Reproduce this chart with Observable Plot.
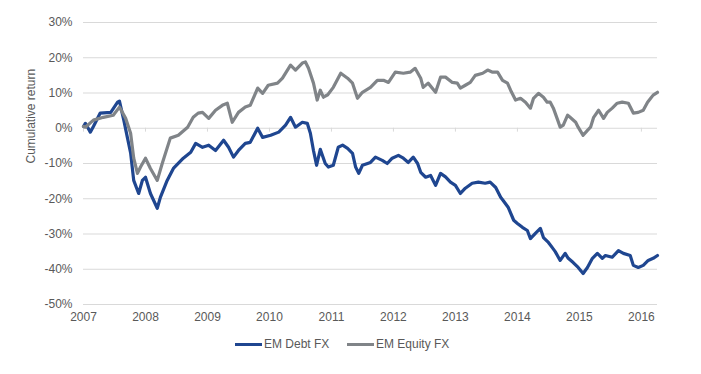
<!DOCTYPE html>
<html><head><meta charset="utf-8">
<script src="https://cdn.jsdelivr.net/npm/d3@7"></script>
<script src="https://cdn.jsdelivr.net/npm/@observablehq/plot@0.6"></script>
<style>
body{margin:0;background:#fff;font-family:"Liberation Sans",Arial,sans-serif;}
#legend{position:relative;height:22px;margin-top:8px;font-size:12px;color:#595959;}
.item{position:absolute;top:0;display:flex;align-items:center;height:16px;white-space:nowrap;}
.sw{width:27px;height:3px;margin-right:2px;}
</style></head><body><div id="chart"></div><div id="legend"></div>
<script>
const seriesNames = ["EM Debt FX", "EM Equity FX"];
const seriesColors = ["#1f4690", "#808488"];
const yearTicks = [2007, 2008, 2009, 2010, 2011, 2012, 2013, 2014, 2015, 2016];
const yTicks = [-50, -40, -30, -20, -10, 0, 10, 20, 30];

const debtYear = [2007.00,2007.03,2007.11,2007.16,2007.27,2007.44,2007.55,2007.58,2007.65,2007.71,
2007.76,2007.81,2007.89,2007.95,2008.00,2008.08,2008.19,2008.24,2008.35,2008.45,
2008.61,2008.73,2008.81,2008.92,2009.02,2009.13,2009.26,2009.34,2009.42,2009.50,
2009.61,2009.69,2009.81,2009.89,2010.02,2010.15,2010.26,2010.34,2010.42,2010.53,
2010.61,2010.66,2010.71,2010.76,2010.82,2010.90,2010.95,2011.03,2011.11,2011.18,
2011.26,2011.34,2011.39,2011.44,2011.50,2011.63,2011.71,2011.82,2011.90,2011.98,
2012.08,2012.16,2012.24,2012.32,2012.39,2012.44,2012.52,2012.60,2012.68,2012.76,
2012.84,2012.92,2013.00,2013.08,2013.16,2013.27,2013.37,2013.48,2013.56,2013.65,
2013.73,2013.77,2013.85,2013.94,2014.00,2014.08,2014.16,2014.21,2014.29,2014.37,
2014.42,2014.50,2014.56,2014.61,2014.69,2014.77,2014.82,2014.90,2014.98,2015.06,
2015.13,2015.21,2015.29,2015.37,2015.42,2015.53,2015.63,2015.71,2015.82,2015.87,
2015.95,2016.03,2016.11,2016.19,2016.26];
const debtValue = [0.5,1.4,-1.1,0.5,4.3,4.5,7.4,7.7,2.3,-2.8,
-7.0,-14.8,-18.5,-14.8,-13.9,-18.5,-22.7,-19.6,-14.8,-11.4,
-8.5,-6.8,-4.3,-5.4,-4.8,-6.3,-3.4,-5.4,-8.2,-6.3,
-4.3,-4.0,0.0,-2.6,-2.0,-1.1,0.9,3.1,0.3,1.7,
1.4,-1.4,-6.3,-10.5,-6.0,-10.0,-11.0,-10.5,-5.4,-4.8,
-5.7,-7.1,-11.0,-12.8,-10.5,-9.7,-8.2,-9.1,-10.0,-8.5,
-7.7,-8.5,-9.7,-8.2,-10.0,-12.5,-13.9,-13.4,-16.2,-12.8,
-13.8,-15.3,-16.2,-18.5,-17.0,-15.6,-15.3,-15.6,-15.3,-16.8,
-19.6,-20.5,-22.4,-26.1,-27.0,-28.1,-29.0,-31.3,-29.8,-28.4,
-31.0,-32.4,-33.8,-35.0,-37.5,-35.5,-36.9,-38.1,-39.5,-41.2,
-39.5,-36.9,-35.5,-36.9,-36.1,-36.6,-34.7,-35.5,-36.1,-38.9,
-39.5,-38.9,-37.5,-36.9,-36.1];

const equityYear = [2007.00,2007.03,2007.16,2007.32,2007.48,2007.58,2007.68,2007.76,2007.81,2007.87,
2007.92,2008.00,2008.08,2008.19,2008.27,2008.40,2008.53,2008.68,2008.77,2008.85,
2008.92,2009.02,2009.13,2009.24,2009.32,2009.40,2009.50,2009.61,2009.69,2009.81,
2009.89,2009.98,2010.13,2010.21,2010.29,2010.34,2010.42,2010.53,2010.58,2010.63,
2010.71,2010.77,2010.82,2010.87,2010.94,2011.03,2011.15,2011.26,2011.34,2011.42,
2011.50,2011.63,2011.74,2011.84,2011.92,2012.03,2012.16,2012.27,2012.35,2012.44,
2012.48,2012.56,2012.68,2012.76,2012.84,2012.95,2013.03,2013.08,2013.16,2013.24,
2013.32,2013.44,2013.52,2013.60,2013.68,2013.76,2013.84,2013.89,2013.97,2014.05,
2014.13,2014.21,2014.26,2014.34,2014.42,2014.48,2014.53,2014.58,2014.65,2014.69,
2014.74,2014.81,2014.85,2014.94,2014.98,2015.06,2015.13,2015.18,2015.23,2015.31,
2015.39,2015.45,2015.53,2015.61,2015.69,2015.79,2015.87,2015.95,2016.03,2016.10,
2016.15,2016.19,2016.26];
const equityValue = [0.5,0.3,2.3,3.1,3.7,6.0,2.8,-1.4,-8.5,-12.8,
-11.0,-8.5,-11.4,-14.8,-10.0,-2.8,-2.0,0.3,3.1,4.3,
4.5,2.8,5.1,6.5,7.1,1.7,4.5,6.0,6.5,11.4,
9.9,12.2,12.8,14.2,16.5,17.9,16.5,18.5,18.8,17.0,
12.8,8.0,10.8,8.8,9.5,11.6,15.6,14.2,12.8,8.5,
10.2,11.6,13.6,13.6,13.0,15.9,15.6,15.9,17.0,14.2,
11.6,12.8,10.2,14.5,14.5,13.0,12.8,11.4,12.2,13.0,
15.0,15.6,16.5,15.9,15.9,13.6,12.8,10.8,8.0,8.5,
7.4,5.7,8.5,9.9,8.8,7.4,7.4,5.7,2.3,0.3,
0.9,3.7,3.1,1.7,0.3,-2.0,-0.6,0.3,3.1,5.1,
2.8,4.5,5.7,7.1,7.4,7.1,4.3,4.5,5.1,7.4,
8.5,9.4,10.2];

const debt = debtYear.map((y, i) => ({year: y, value: debtValue[i]}));
const equity = equityYear.map((y, i) => ({year: y, value: equityValue[i]}));

const chart = Plot.plot({
  width: 701, height: 328,
  marginTop: 22, marginBottom: 24, marginLeft: 83, marginRight: 44,
  style: {fontFamily: "Liberation Sans, Arial, sans-serif", fontSize: "12px", color: "#595959", background: "#fff"},
  x: {domain: [2007, 2016.26]},
  y: {domain: [-50, 30]},
  marks: [
    Plot.ruleY(yTicks, {stroke: "#d9d9d9", strokeWidth: 1}),
    Plot.ruleX(yearTicks, {y1: 0, y2: -1.1, stroke: "#d9d9d9"}),
    Plot.axisX({ticks: yearTicks, tickSize: 0, tickPadding: 8, tickFormat: d => String(d), label: null}),
    Plot.axisY({ticks: yTicks, tickSize: 0, tickPadding: 11, tickFormat: d => d + "%", label: null}),
    Plot.line(debt, {x: "year", y: "value", stroke: seriesColors[0], strokeWidth: 3.2, strokeLinejoin: "round"}),
    Plot.line(equity, {x: "year", y: "value", stroke: seriesColors[1], strokeWidth: 3.2, strokeLinejoin: "round"}),
    Plot.text(["Cumulative return"], {frameAnchor: "left", dx: -52, rotate: -90, fill: "#595959", fontSize: 12})
  ]
});
document.getElementById("chart").appendChild(chart);

const legend = document.getElementById("legend");
const lefts = [235, 347];
seriesNames.forEach((n, i) => {
  const it = document.createElement("div");
  it.className = "item";
  it.style.left = lefts[i] + "px";
  const sw = document.createElement("span");
  sw.className = "sw";
  sw.style.background = seriesColors[i];
  const tx = document.createElement("span");
  tx.textContent = n;
  it.appendChild(sw); it.appendChild(tx);
  legend.appendChild(it);
});
</script></body></html>
